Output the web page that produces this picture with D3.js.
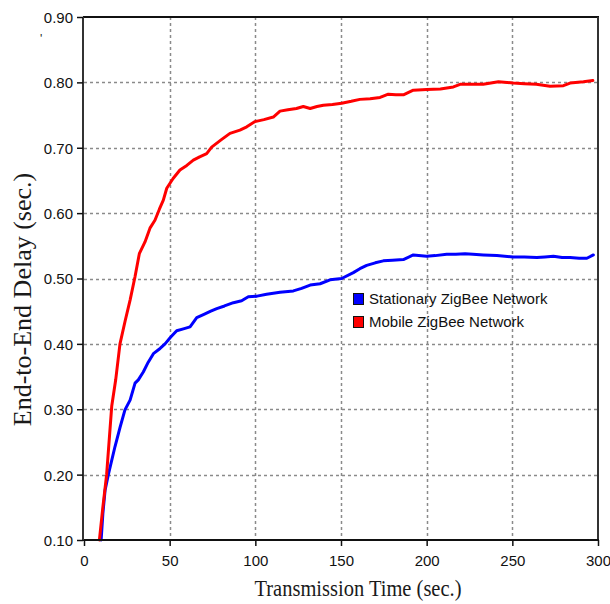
<!DOCTYPE html>
<html>
<head>
<meta charset="utf-8">
<script src="https://cdn.jsdelivr.net/npm/d3@7"></script>
<style>
  html, body { margin: 0; padding: 0; background: #fff; }
  svg { display: block; }
</style>
</head>
<body>
<svg id="chart" width="610" height="604"></svg>
<script>
// ---- data ----
const xTicks = [0, 50, 100, 150, 200, 250, 300];
const yTicks = [0.1, 0.2, 0.3, 0.4, 0.5, 0.6, 0.7, 0.8, 0.9];
const seriesNames = ["Stationary ZigBee Network", "Mobile ZigBee Network"];
const seriesColors = ["#0000ff", "#ff0000"];

const stationaryTime = [10, 11, 12.3, 14.2, 18.1, 21, 23.9, 26.9, 29.8, 31.7, 34.6, 37.5, 40.5, 44.4, 47.3, 50.5, 54.1, 58, 61.9, 65.8, 70, 74, 77.5, 82, 87.2, 92, 95.9, 101, 106.6, 114.4, 122.2, 127, 132, 137.8, 143.6, 150.4, 157.2, 161, 165, 170, 174.7, 180, 186.4, 192.2, 200, 205, 211.7, 217, 222.4, 227, 233.1, 241, 250.6, 257, 264.3, 269, 274, 279, 283.7, 289, 293.5, 297.3];
const stationaryDelay = [0.10, 0.14, 0.176, 0.20, 0.243, 0.272, 0.299, 0.314, 0.34, 0.345, 0.357, 0.372, 0.385, 0.393, 0.40, 0.41, 0.42, 0.423, 0.426, 0.44, 0.445, 0.45, 0.454, 0.458, 0.463, 0.466, 0.472, 0.473, 0.476, 0.479, 0.481, 0.485, 0.490, 0.492, 0.498, 0.500, 0.509, 0.515, 0.520, 0.524, 0.527, 0.528, 0.529, 0.536, 0.534, 0.535, 0.537, 0.537, 0.538, 0.537, 0.536, 0.535, 0.533, 0.533, 0.532, 0.533, 0.534, 0.532, 0.532, 0.531, 0.531, 0.536];

const mobileTime = [9, 11, 13.2, 16.2, 18.5, 21, 24, 26.9, 29.8, 32.3, 35.6, 38.5, 41.4, 44, 46.3, 48.3, 52, 56, 60, 63.8, 67.5, 71.6, 74.5, 80, 85.2, 91, 95, 99.8, 105, 110.5, 114.4, 119, 124, 128, 132, 136, 139.7, 145, 150.4, 156, 161, 167, 172.8, 174.7, 177.6, 182, 186.4, 192.2, 200, 208, 215.6, 219.5, 226, 233, 241.9, 250.6, 257, 264, 272, 279.8, 283.7, 291.5, 297];
const mobileDelay = [0.10, 0.15, 0.20, 0.305, 0.345, 0.40, 0.435, 0.467, 0.503, 0.538, 0.556, 0.577, 0.589, 0.606, 0.62, 0.638, 0.653, 0.666, 0.673, 0.681, 0.686, 0.691, 0.701, 0.712, 0.722, 0.727, 0.732, 0.740, 0.743, 0.747, 0.756, 0.758, 0.760, 0.763, 0.760, 0.763, 0.765, 0.766, 0.768, 0.771, 0.774, 0.775, 0.777, 0.779, 0.782, 0.781, 0.781, 0.788, 0.789, 0.790, 0.793, 0.797, 0.797, 0.797, 0.801, 0.799, 0.798, 0.797, 0.794, 0.795, 0.799, 0.801, 0.803];

(function () {
// ---- layout ----
const svg = d3.select("#chart");
const pL = 84, pR = 598, pT = 17, pB = 540;
const x = d3.scaleLinear().domain([0, 300]).range([pL, pR]);
const y = d3.scaleLinear().domain([0.1, 0.9]).range([pB, pT]);

// grid
const grid = svg.append("g");
grid.selectAll("line.h").data(yTicks.slice(1, -1)).join("line")
  .attr("x1", pL).attr("x2", pR)
  .attr("y1", d => Math.round(y(d)) + 0.5).attr("y2", d => Math.round(y(d)) + 0.5)
  .attr("stroke", "#8a8a8a").attr("stroke-width", 1.5).attr("stroke-dasharray", "3,3");
grid.selectAll("line.v").data(xTicks.slice(1, -1)).join("line")
  .attr("y1", pT).attr("y2", pB)
  .attr("x1", d => Math.round(x(d)) + 0.5).attr("x2", d => Math.round(x(d)) + 0.5)
  .attr("stroke", "#8a8a8a").attr("stroke-width", 1.5).attr("stroke-dasharray", "3,3");

// lines
const line = d3.line().x(d => x(d[0])).y(d => y(d[1]));
const series = [
  stationaryTime.map((t, i) => [t, stationaryDelay[i]]),
  mobileTime.map((t, i) => [t, mobileDelay[i]])
];
series.forEach((s, i) => {
  svg.append("path").datum(s)
    .attr("d", line)
    .attr("fill", "none")
    .attr("stroke", seriesColors[i])
    .attr("stroke-width", 3)
    .attr("stroke-linejoin", "round")
    .attr("stroke-linecap", "round");
});

// frame
svg.append("line").attr("x1", pL - 1).attr("x2", pR + 1).attr("y1", pT).attr("y2", pT)
  .attr("stroke", "#111").attr("stroke-width", 2);
svg.append("line").attr("x1", pR).attr("x2", pR).attr("y1", pT).attr("y2", pB)
  .attr("stroke", "#333").attr("stroke-width", 2);

// axes
const xAxis = d3.axisBottom(x).tickValues(xTicks).tickFormat(d3.format("d")).tickSize(6).tickSizeOuter(0);
const gx = svg.append("g").attr("transform", `translate(0,${pB})`).call(xAxis);
gx.select(".domain").attr("stroke", "#111").attr("stroke-width", 2).attr("d", `M${pL - 1},0H${pR + 1}`);
gx.selectAll(".tick line").attr("stroke", "#111").attr("stroke-width", 1.5);
gx.selectAll(".tick text").attr("font-family", "Liberation Sans, Arial, sans-serif")
  .attr("font-size", 15).attr("fill", "#111").attr("dy", "0").attr("y", 26);

const yAxis = d3.axisLeft(y).tickValues(yTicks).tickFormat(d3.format(".2f")).tickSize(6).tickSizeOuter(0);
const gy = svg.append("g").attr("transform", `translate(${pL - 1},0)`).call(yAxis);
gy.select(".domain").attr("stroke", "#333").attr("stroke-width", 2).attr("d", `M0,${pT}V${pB}`);
gy.selectAll(".tick line").attr("stroke", "#111").attr("stroke-width", 1.5);
gy.selectAll(".tick text").attr("font-family", "Liberation Sans, Arial, sans-serif")
  .attr("font-size", 15).attr("fill", "#111").attr("x", -10).attr("dy", "0.36em");

// axis titles
svg.append("text")
  .attr("x", 358).attr("y", 596)
  .attr("text-anchor", "middle")
  .attr("font-family", "Liberation Serif, Times New Roman, serif")
  .attr("font-size", 23)
  .attr("textLength", 207).attr("lengthAdjust", "spacingAndGlyphs")
  .attr("fill", "#1a1a1a")
  .text("Transmission Time (sec.)");

svg.append("text")
  .attr("transform", "translate(31,299.5) rotate(-90)")
  .attr("text-anchor", "middle")
  .attr("font-family", "Liberation Serif, Times New Roman, serif")
  .attr("font-size", 26)
  .attr("fill", "#1a1a1a")
  .text("End-to-End Delay (sec.)");

// stray mark
svg.append("text").attr("x", 40).attr("y", 43)
  .attr("font-family", "Liberation Sans, Arial, sans-serif").attr("font-size", 12)
  .attr("fill", "#222").text("'");

// legend
const legend = svg.append("g").attr("transform", "translate(353,293)");
seriesNames.forEach((name, i) => {
  const g = legend.append("g").attr("transform", `translate(0,${i * 23})`);
  g.append("rect").attr("x", 0.5).attr("y", 0.5).attr("width", 10).attr("height", 11)
    .attr("fill", seriesColors[i]).attr("stroke", "#111").attr("stroke-width", 1);
  g.append("text").attr("x", 16).attr("y", 11)
    .attr("font-family", "Liberation Sans, Arial, sans-serif").attr("font-size", 15)
    .attr("fill", "#111").text(name);
});
})();
</script>
</body>
</html>
